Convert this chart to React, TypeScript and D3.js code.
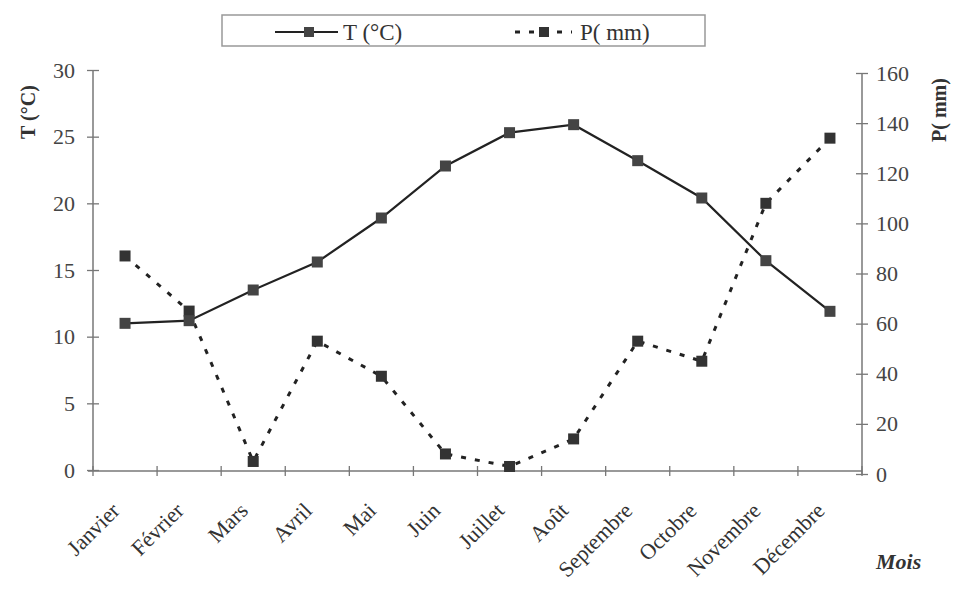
import React, { useEffect, useRef } from "react";
import * as d3 from "d3";

// monthly climate data
const months = ["Janvier", "Février", "Mars", "Avril", "Mai", "Juin", "Juillet", "Août", "Septembre", "Octobre", "Novembre", "Décembre"];
const temps = [11.0, 11.2, 13.5, 15.6, 18.9, 22.8, 25.3, 25.9, 23.2, 20.4, 15.7, 11.9];
const precip = [87, 65, 5, 53, 39, 8, 3, 14, 53, 45, 108, 134];
const tTicks = [0, 5, 10, 15, 20, 25, 30];
const pTicks = [0, 20, 40, 60, 80, 100, 120, 140, 160];

const W = 957, H = 590;
const FONT = "'Liberation Serif', 'Times New Roman', serif";

export default function App() {
  const ref = useRef<SVGSVGElement>(null);

  useEffect(() => {
    document.body.style.margin = "0";
    const svg = d3.select(ref.current);
    svg.selectAll("*").remove();

    const x = d3.scaleBand<string>().domain(months).range([93, 862]);
    const yT = d3.scaleLinear().domain([0, 30]).range([470, 70]);
    const yP = d3.scaleLinear().domain([0, 160]).range([474, 73]);
    const cx = (m: string) => (x(m) as number) + x.bandwidth() / 2;

    const axisColor = "#777";

    // left axis
    const gl = svg.append("g").attr("transform", "translate(93,0)")
      .call(d3.axisLeft(yT).tickValues(tTicks).tickSize(6).tickPadding(12));
    gl.select(".domain").attr("stroke", axisColor).attr("stroke-width", 1.5).attr("d", `M0,${yT(30)}V${yT(0)}`);
    gl.selectAll(".tick line").attr("stroke", axisColor).attr("x1", 6).attr("stroke-width", 1.3);
    gl.selectAll(".tick text").attr("font-family", FONT).attr("font-size", 22).attr("fill", "#444");

    // right axis
    const gr = svg.append("g").attr("transform", "translate(862,0)")
      .call(d3.axisRight(yP).tickValues(pTicks).tickSize(6).tickPadding(8));
    gr.select(".domain").attr("stroke", axisColor).attr("stroke-width", 1.5).attr("d", `M0,${yP(160)}V${yP(0)}`);
    gr.selectAll(".tick line").attr("stroke", axisColor).attr("x1", -6).attr("stroke-width", 1.3);
    gr.selectAll(".tick text").attr("font-family", FONT).attr("font-size", 22).attr("fill", "#444");

    // x axis
    const gx = svg.append("g");
    gx.append("line").attr("x1", 88).attr("x2", 862).attr("y1", 471).attr("y2", 471)
      .attr("stroke", axisColor).attr("stroke-width", 1.5);
    const bounds = months.map(m => x(m) as number).concat([x.range()[1]]);
    gx.selectAll("line.tk").data(bounds).join("line").attr("class", "tk")
      .attr("x1", d => d).attr("x2", d => d).attr("y1", 466).attr("y2", 476)
      .attr("stroke", axisColor).attr("stroke-width", 1.3);
    gx.selectAll("text").data(months).join("text")
      .attr("transform", d => `translate(${cx(d) - 4},${512}) rotate(-45)`)
      .attr("text-anchor", "end")
      .attr("font-family", FONT).attr("font-size", 22).attr("fill", "#333")
      .text(d => d);

    // titles
    svg.append("text").attr("transform", "translate(35,112) rotate(-90)").attr("text-anchor", "middle")
      .attr("font-family", FONT).attr("font-weight", "bold").attr("font-size", 20).attr("fill", "#333").text("T (°C)");
    svg.append("text").attr("transform", "translate(946,110) rotate(-90)").attr("text-anchor", "middle")
      .attr("font-family", FONT).attr("font-weight", "bold").attr("font-size", 20).attr("fill", "#333").text("P( mm)");
    svg.append("text").attr("x", 876).attr("y", 569)
      .attr("font-family", FONT).attr("font-weight", "bold").attr("font-style", "italic").attr("font-size", 22).attr("fill", "#333").text("Mois");

    // precipitation dashed line
    const lineP = d3.line<number>().x((_, i) => cx(months[i])).y(d => yP(d));
    svg.append("path").attr("d", lineP(precip)).attr("fill", "none")
      .attr("stroke", "#222").attr("stroke-width", 3).attr("stroke-dasharray", "5,9");
    svg.selectAll("rect.pm").data(precip).join("rect").attr("class", "pm")
      .attr("x", (_, i) => cx(months[i]) - 5.5).attr("y", d => yP(d) - 5.5)
      .attr("width", 11).attr("height", 11).attr("fill", "#333");

    // temperature solid line
    const lineT = d3.line<number>().x((_, i) => cx(months[i])).y(d => yT(d));
    svg.append("path").attr("d", lineT(temps)).attr("fill", "none")
      .attr("stroke", "#222").attr("stroke-width", 2.2);
    svg.selectAll("rect.tm").data(temps).join("rect").attr("class", "tm")
      .attr("x", (_, i) => cx(months[i]) - 5.5).attr("y", d => yT(d) - 5.5)
      .attr("width", 11).attr("height", 11).attr("fill", "#444");

    // legend
    const lg = svg.append("g");
    lg.append("rect").attr("x", 222).attr("y", 15).attr("width", 483).attr("height", 31)
      .attr("fill", "none").attr("stroke", "#999").attr("stroke-width", 1.5);
    lg.append("line").attr("x1", 275).attr("x2", 338).attr("y1", 32).attr("y2", 32)
      .attr("stroke", "#222").attr("stroke-width", 2.2);
    lg.append("rect").attr("x", 304).attr("y", 27).attr("width", 10).attr("height", 10).attr("fill", "#444");
    lg.append("text").attr("x", 343).attr("y", 40).attr("font-family", FONT).attr("font-size", 23).attr("fill", "#333").text("T (°C)");
    lg.append("line").attr("x1", 513).attr("x2", 572).attr("y1", 32).attr("y2", 32)
      .attr("stroke", "#222").attr("stroke-width", 3).attr("stroke-dasharray", "5,9").attr("stroke-dashoffset", -2);
    lg.append("rect").attr("x", 539).attr("y", 27).attr("width", 10).attr("height", 10).attr("fill", "#333");
    lg.append("text").attr("x", 580).attr("y", 40).attr("font-family", FONT).attr("font-size", 23).attr("fill", "#333").text("P( mm)");
  }, []);

  return <svg ref={ref} width={W} height={H} style={{ display: "block", background: "#fff" }} />;
}
